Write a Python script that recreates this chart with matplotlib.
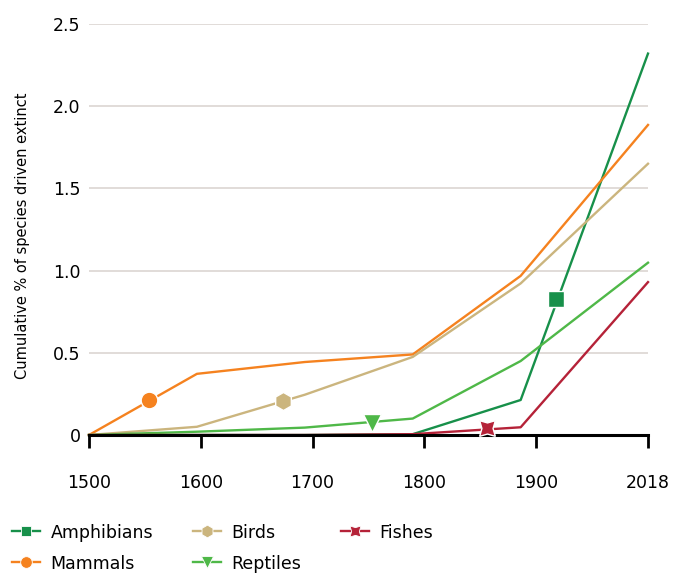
import matplotlib
matplotlib.use("Agg")
import matplotlib.pyplot as plt
import numpy as np

# data
years = [1500, 1600, 1700, 1800, 1900, 2018]
tick_labels = ["1500", "1600", "1700", "1800", "1900", "2018"]

amphibians = [0, 0, 0, 0.005, 0.213, 2.32]
mammals = [0, 0.372, 0.444, 0.49, 0.968, 1.886]
birds = [0, 0.05, 0.245, 0.475, 0.922, 1.65]
reptiles = [0, 0.02, 0.045, 0.10, 0.45, 1.048]
fishes = [0, 0, 0, 0.005, 0.047, 0.93]

# one marker per series, sitting on its line
marker_year = {"Amphibians": 1933, "Mammals": 1556, "Birds": 1680,
               "Reptiles": 1762, "Fishes": 1869}
marker_val = {"Amphibians": 0.828, "Mammals": 0.215, "Birds": 0.207,
              "Reptiles": 0.075, "Fishes": 0.042}

series = [
    ("Amphibians", amphibians, "#17904a", "s", 11),
    ("Mammals", mammals, "#f5821f", "o", 12),
    ("Birds", birds, "#cbb57e", "h", 13),
    ("Reptiles", reptiles, "#4fb848", "v", 13),
    ("Fishes", fishes, "#b52238", (4, 1, 45), 16),
]

plt.rcParams["font.family"] = ["DejaVu Sans"]

fig = plt.figure(figsize=(6.75, 5.74), dpi=100)
ax = fig.add_axes([89 / 675, 1 - 435 / 574, (648 - 89) / 675, (435 - 24) / 574])

handles = []
for name, vals, col, mk, ms in series:
    ax.plot(years, vals, color=col, lw=1.7, zorder=2, clip_on=False)
    ax.plot(marker_year[name], marker_val[name], marker=mk, ms=ms, color=col,
            mec="white", mew=1.0, zorder=4, clip_on=False)
    h, = ax.plot([], [], color=col, lw=1.7, marker=mk, ms=ms * 0.7,
                 mec="white", mew=0.6, label=name)
    handles.append(h)

ax.set_xlim(1500, 2018)
ax.set_ylim(0, 2.5)

# ticks evenly spaced across the span, labelled as in the source chart
ax.set_xticks(np.linspace(1500, 2018, 6))
ax.set_xticklabels(tick_labels)
ax.set_yticks([0, 0.5, 1.0, 1.5, 2.0, 2.5])
ax.set_yticklabels(["0", "0.5", "1.0", "1.5", "2.0", "2.5"])

ax.tick_params(axis="x", direction="out", length=9, width=2, color="black",
               labelsize=12.5, pad=19)
ax.tick_params(axis="y", length=0, labelsize=12.5, pad=6)

for s in ["top", "right", "left"]:
    ax.spines[s].set_visible(False)
ax.spines["bottom"].set_linewidth(2.2)
ax.spines["bottom"].set_color("black")
ax.spines["bottom"].set_zorder(3)

ax.yaxis.grid(True, color="#dbd6d2", lw=1.2)
ax.set_axisbelow(True)

ax.set_ylabel("Cumulative % of species driven extinct", fontsize=10.5)
ax.yaxis.set_label_coords(-0.105, 0.485)

fig.legend(handles, [h.get_label() for h in handles],
           loc="upper left", bbox_to_anchor=(0.008, 0.1), ncol=3, frameon=False,
           fontsize=12.5, handlelength=1.6, handletextpad=0.6, columnspacing=2.3,
           labelspacing=0.75, borderaxespad=0)

fig.savefig("out.png", dpi=100)
